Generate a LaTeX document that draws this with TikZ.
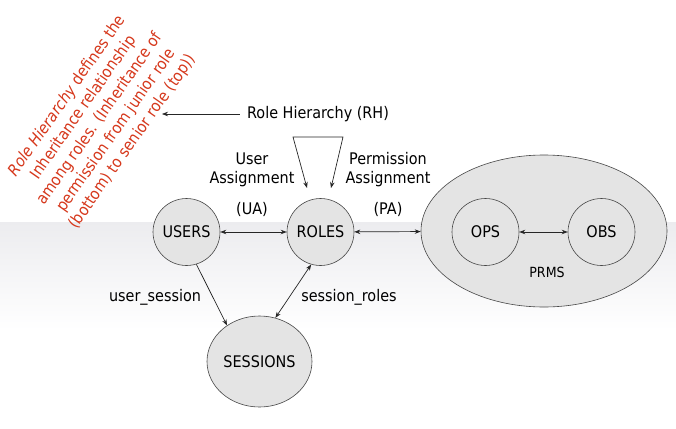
\documentclass[tikz,border=0pt]{standalone}
\usepackage{fontspec}
\setmainfont{DejaVu Sans}[FakeStretch=0.9]
\usetikzlibrary{shapes.geometric,arrows.meta}
\definecolor{redtxt}{RGB}{214,56,28}
\definecolor{nodefill}{RGB}{228,228,228}
\definecolor{band}{RGB}{236,236,239}
\definecolor{linegray}{RGB}{70,70,70}
\begin{document}
\begin{tikzpicture}[x=1pt,y=-1pt,
  ent/.style={circle, draw=linegray, line width=0.6pt, fill=nodefill, minimum size=67pt, inner sep=0pt, font=\fontsize{16}{19}\selectfont},
  lbl/.style={inner sep=0pt, font=\fontsize{16}{19}\selectfont},
  arr/.style={draw=black!85, line width=0.7pt, -{Stealth[length=6pt,width=4.5pt]}},
  biarr/.style={draw=black!85, line width=0.7pt, {Stealth[length=6pt,width=4.5pt]}-{Stealth[length=6pt,width=4.5pt]}}]
\useasboundingbox (0,0) rectangle (676,428);
\fill[white] (0,0) rectangle (676,428);
\shade[top color=band,bottom color=white] (0,222) rectangle (676,330);

\node[ent] (users) at (186.5,232) {USERS};
\node[ent] (roles) at (320.5,232) {ROLES};
\node[ellipse, draw=linegray, line width=0.6pt, fill=nodefill, minimum width=246pt, minimum height=152pt, inner sep=0pt] (prms) at (544,231) {};
\node[ent] (ops) at (485.5,232) {OPS};
\node[ent] (obs) at (601.5,232) {OBS};
\node[lbl, font=\fontsize{14}{17}\selectfont] (prmslbl) at (547,272) {PRMS};
\node[ellipse, draw=linegray, line width=0.6pt, fill=nodefill, minimum width=105pt, minimum height=91pt, inner sep=0pt, font=\fontsize{16}{19}\selectfont] (sessions) at (259.5,361.5) {SESSIONS};

\node[lbl] (rh) at (318,114) {Role Hierarchy (RH)};
\node[lbl, align=center] (ua) at (252,169.5) {User\\Assignment};
\node[lbl] (uatag) at (252,209) {(UA)};
\node[lbl, align=center] (pa) at (388,169.5) {Permission\\Assignment};
\node[lbl] (patag) at (388,209) {(PA)};
\node[lbl] (us) at (155,297) {user\_session};
\node[lbl] (sr) at (349,297) {session\_roles};

\node[rotate=55, text=redtxt, align=center, inner sep=0pt, font=\fontsize{16}{20}\selectfont] (note) at (100,119)
  {\textit{Role Hierarchy} defines the\\Inheritance relationship\\among roles. (Inheritance of\\permission from junior role\\(bottom) to senior role (top))};

\coordinate (rhend) at (162,114);
\draw[arr] ([xshift=-7pt]rh.west) -- (rhend);

\coordinate (l1) at (293,137);
\coordinate (l2) at (343,137);
\coordinate (t1) at (307,188);
\coordinate (t2) at (331,188);
\draw[biarr] (t1) -- (l1) -- (l2) -- (t2);

\draw[biarr] (users) -- (roles);
\draw[biarr] (roles) -- (prms);
\draw[biarr] (ops) -- (obs);
\draw[arr] (users.-73) -- (sessions.132);
\draw[biarr] (roles.-106) -- (sessions.70);
\end{tikzpicture}
\end{document}
